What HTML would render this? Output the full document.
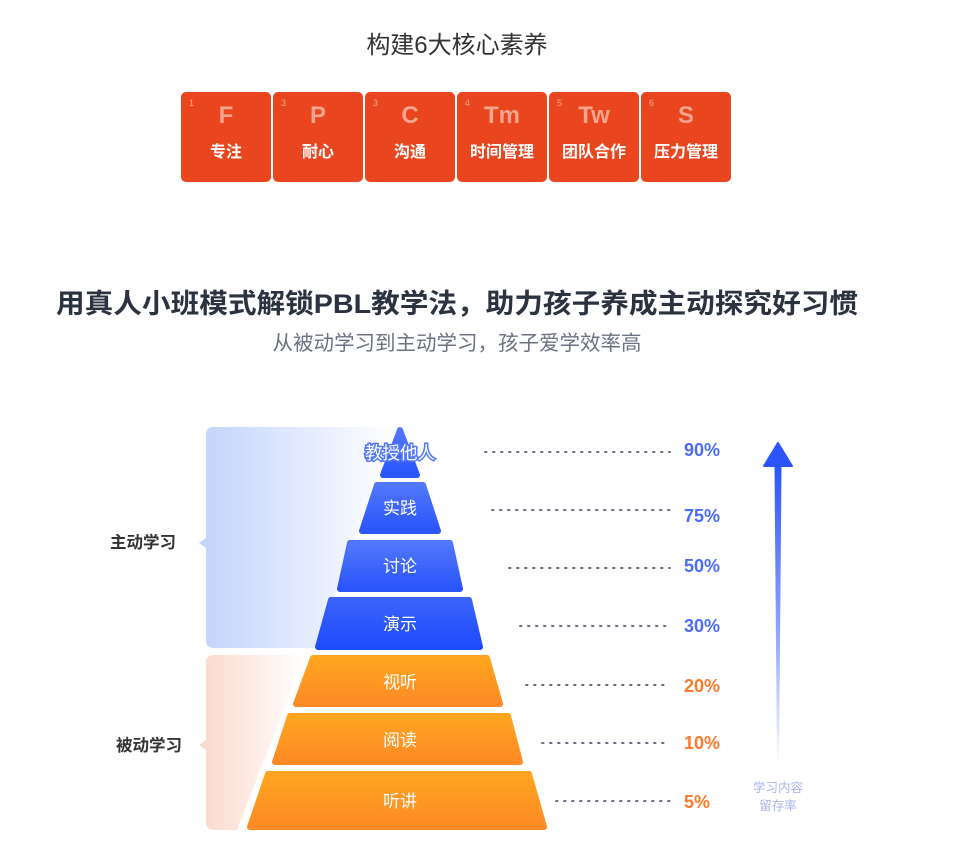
<!DOCTYPE html>
<html><head><meta charset="utf-8"><style>
body{margin:0;background:#fff;}
svg{display:block;font-family:"Liberation Sans","Noto Sans CJK SC",sans-serif;}
</style></head><body>
<svg width="966" height="845" viewBox="0 0 966 845">
<defs>
<linearGradient id="bl" x1="0" y1="0" x2="0" y2="1"><stop offset="0" stop-color="#5177fb"/><stop offset="1" stop-color="#2a55fb"/></linearGradient>
<linearGradient id="bl2" x1="0" y1="0" x2="0" y2="1"><stop offset="0" stop-color="#3a62fb"/><stop offset="1" stop-color="#1f4cfb"/></linearGradient>
<linearGradient id="or" x1="0" y1="0" x2="0" y2="1"><stop offset="0" stop-color="#ffa51f"/><stop offset="1" stop-color="#fd8a26"/></linearGradient>
<linearGradient id="pb" x1="0" y1="0" x2="1" y2="0"><stop offset="0" stop-color="#c2d3fb"/><stop offset="1" stop-color="#ffffff"/></linearGradient>
<linearGradient id="po" x1="0" y1="0" x2="1" y2="0"><stop offset="0" stop-color="#fbd8cc"/><stop offset="1" stop-color="#ffffff"/></linearGradient>
<linearGradient id="ar" x1="0" y1="0" x2="0" y2="1"><stop offset="0" stop-color="#2b55fb"/><stop offset="0.6" stop-color="#9aacfb"/><stop offset="1" stop-color="#ffffff"/></linearGradient>
</defs>

<text x="457" y="53" font-size="24" fill="#333" text-anchor="middle">构建6大核心素养</text>

<g font-weight="bold">
<g fill="#e9461f">
<rect x="181" y="92" width="90" height="90" rx="5"/><rect x="273" y="92" width="90" height="90" rx="5"/><rect x="365" y="92" width="90" height="90" rx="5"/><rect x="457" y="92" width="90" height="90" rx="5"/><rect x="549" y="92" width="90" height="90" rx="5"/><rect x="641" y="92" width="90" height="90" rx="5"/>
</g>
<g fill="#f4a58f" font-size="9" font-weight="normal">
<text x="189" y="106">1</text><text x="281" y="106">3</text><text x="373" y="106">3</text><text x="465" y="106">4</text><text x="557" y="106">5</text><text x="649" y="106">6</text>
</g>
<g fill="#f4a58f" font-size="24" text-anchor="middle">
<text x="226" y="123">F</text><text x="318" y="123">P</text><text x="410" y="123">C</text><text x="502" y="123">Tm</text><text x="594" y="123">Tw</text><text x="686" y="123">S</text>
</g>
<g fill="#fff" font-size="16" text-anchor="middle">
<text x="226" y="157">专注</text><text x="318" y="157">耐心</text><text x="410" y="157">沟通</text><text x="502" y="157">时间管理</text><text x="594" y="157">团队合作</text><text x="686" y="157">压力管理</text>
</g>
</g>

<text x="56" y="313" font-size="27" font-weight="bold" fill="#2b3240" textLength="802" lengthAdjust="spacingAndGlyphs">用真人小班模式解锁PBL教学法，助力孩子养成主动探究好习惯</text>
<text x="457" y="350" font-size="20.5" fill="#6b7280" text-anchor="middle">从被动学习到主动学习，孩子爱学效率高</text>

<path d="M214 427 H395 L316 648 H214 Q206 648 206 640 V548 L199 543 L206 538 V435 Q206 427 214 427Z" fill="url(#pb)"/>
<path d="M214 655 H305 L237 830 H214 Q206 830 206 822 V750 L199 745 L206 740 V663 Q206 655 214 655Z" fill="url(#po)"/>
<text x="110" y="548" font-size="16.5" font-weight="bold" fill="#333">主动学习</text>
<text x="116" y="751" font-size="16.5" font-weight="bold" fill="#333">被动学习</text>

<g stroke-linejoin="round" stroke-width="6">
<polygon points="400,430 417,475 383,475" fill="url(#bl)" stroke="url(#bl)"/>
<polygon points="377,485 423,485 438,531 362,531" fill="url(#bl)" stroke="url(#bl)"/>
<polygon points="350,543 450,543 460,589 340,589" fill="url(#bl)" stroke="url(#bl)"/>
<polygon points="331,600 469,600 480,647 318,647" fill="url(#bl2)" stroke="url(#bl2)"/>
<polygon points="313,658 487,658 500,704 296,704" fill="url(#or)" stroke="url(#or)"/>
<polygon points="290,716 508,716 520,762 275,762" fill="url(#or)" stroke="url(#or)"/>
<polygon points="268,774 529,774 544,827 250,827" fill="url(#or)" stroke="url(#or)"/>
</g>
<text x="400" y="459" font-size="17.5" fill="#fff" text-anchor="middle" stroke="#5177fb" stroke-width="3" paint-order="stroke">教授他人</text>
<g fill="#fff" font-size="17" text-anchor="middle">
<text x="400" y="514">实践</text><text x="400" y="572">讨论</text><text x="400" y="630">演示</text>
<text x="400" y="688">视听</text><text x="400" y="746">阅读</text><text x="400" y="807">听讲</text>
</g>

<g stroke="#6b7080" stroke-width="2" stroke-dasharray="1.5 6.5" stroke-linecap="round">
<line x1="485" y1="452" x2="670" y2="452"/>
<line x1="492" y1="510" x2="670" y2="510"/>
<line x1="509" y1="568" x2="670" y2="568"/>
<line x1="520" y1="626" x2="670" y2="626"/>
<line x1="526" y1="685" x2="670" y2="685"/>
<line x1="542" y1="743" x2="670" y2="743"/>
<line x1="556" y1="801" x2="670" y2="801"/>
</g>
<g font-size="18" font-weight="bold">
<text x="684" y="456" fill="#4a6cf7">90%</text>
<text x="684" y="522" fill="#4a6cf7">75%</text>
<text x="684" y="572" fill="#4a6cf7">50%</text>
<text x="684" y="632" fill="#4a6cf7">30%</text>
<text x="684" y="692" fill="#fb7a2c">20%</text>
<text x="684" y="749" fill="#fb7a2c">10%</text>
<text x="684" y="808" fill="#fb7a2c">5%</text>
</g>

<polygon points="774.5,466 781.5,466 779,765 777,765" fill="url(#ar)"/>
<polygon points="778,443 792,466 764,466" fill="#2b55fb" stroke="#2b55fb" stroke-width="2" stroke-linejoin="round"/>
<text x="778" y="792" font-size="12.5" fill="#aab3f0" text-anchor="middle">学习内容</text>
<text x="778" y="810" font-size="12.5" fill="#aab3f0" text-anchor="middle">留存率</text>
</svg>
</body></html>
